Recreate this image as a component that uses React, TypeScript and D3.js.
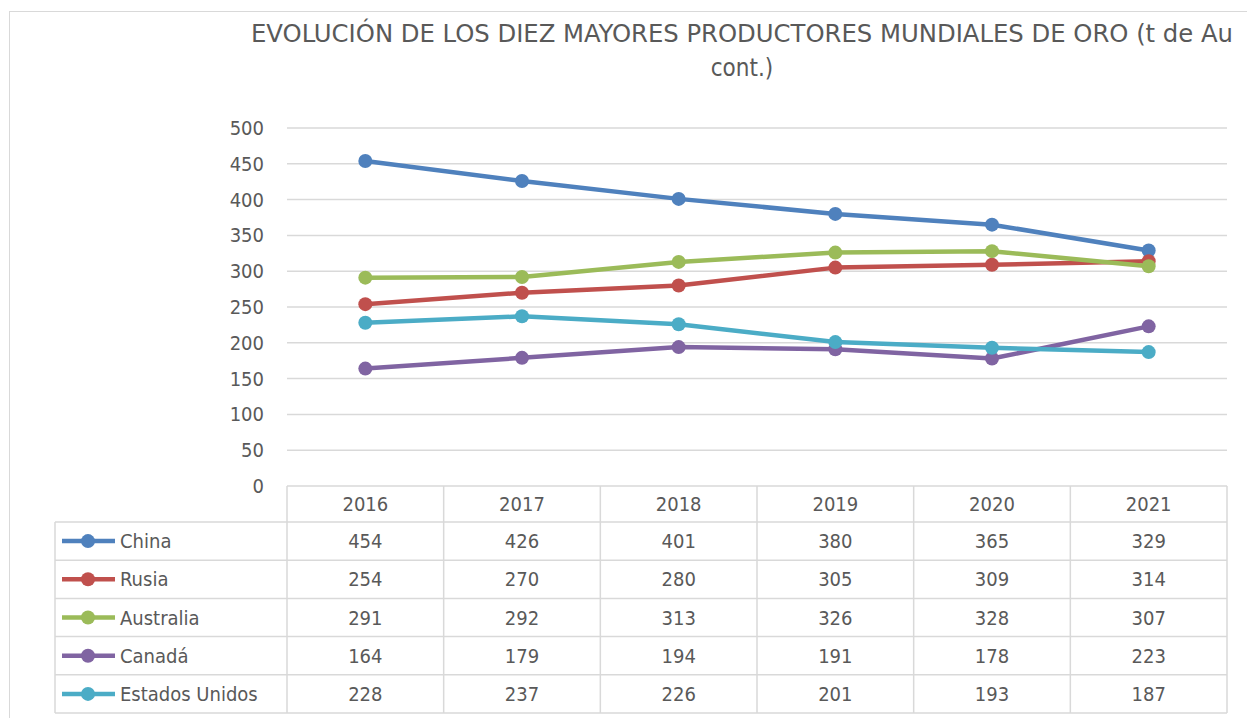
import React from "react";
import * as d3 from "d3";

const years = ["2016", "2017", "2018", "2019", "2020", "2021"];
const seriesNames = ["China", "Rusia", "Australia", "Canadá", "Estados Unidos"];
const china = [454, 426, 401, 380, 365, 329];
const rusia = [254, 270, 280, 305, 309, 314];
const australia = [291, 292, 313, 326, 328, 307];
const canada = [164, 179, 194, 191, 178, 223];
const eeuu = [228, 237, 226, 201, 193, 187];
const colors = ["#4f81bd", "#c0504d", "#9bbb59", "#8064a2", "#4bacc6"];
const yTicks = [0, 50, 100, 150, 200, 250, 300, 350, 400, 450, 500];
const titleLines = ["EVOLUCIÓN DE LOS DIEZ MAYORES PRODUCTORES MUNDIALES DE ORO (t de Au", "cont.)"];

const allSeries = [china, rusia, australia, canada, eeuu];

export default function App() {
  const W = 1247, H = 718;
  const left = 287, right = 1227, top = 128, bottom = 486;
  const tableLeft = 55;
  const headerBottom = 522;
  const rowH = 38.2;
  const font = "'DejaVu Sans Condensed', 'DejaVu Sans', sans-serif";
  const textColor = "#595959";
  const gridColor = "#d9d9d9";

  const x = d3.scaleBand<string>().domain(years).range([left, right]);
  const y = d3.scaleLinear().domain([0, 500]).range([bottom, top]);
  const line = d3.line<number>().x((_, i) => (x(years[i]) as number) + x.bandwidth() / 2).y((d) => y(d));

  const tableBottom = headerBottom + rowH * seriesNames.length;

  return (
    <svg width={W} height={H} style={{ position: "absolute", left: 0, top: 0, fontFamily: font }}>
      <rect x={0} y={0} width={W} height={H} fill="#fff" />
      <rect x={9.5} y={11.5} width={W + 10} height={H + 10} fill="none" stroke={gridColor} strokeWidth={1} />
      <text x={742} y={42} textAnchor="middle" fontSize={24} fill={textColor} textLength={982} lengthAdjust="spacingAndGlyphs">{titleLines[0]}</text>
      <text x={742} y={76} textAnchor="middle" fontSize={24} fill={textColor}>{titleLines[1]}</text>
      {yTicks.map((t) => (
        <g key={t}>
          {t > 0 && <line x1={left} x2={right} y1={y(t)} y2={y(t)} stroke={gridColor} strokeWidth={1.5} />}
          <text x={264} y={y(t) + 7} textAnchor="end" fontSize={20} fill={textColor}>{t}</text>
        </g>
      ))}
      {/* table */}
      <g stroke={gridColor} strokeWidth={1.5} fill="none">
        <line x1={left} x2={right} y1={bottom} y2={bottom} />
        {seriesNames.map((_, i) => (
          <line key={i} x1={tableLeft} x2={right} y1={headerBottom + rowH * i} y2={headerBottom + rowH * i} />
        ))}
        <line x1={tableLeft} x2={right} y1={tableBottom} y2={tableBottom} />
        <line x1={tableLeft} x2={tableLeft} y1={headerBottom} y2={tableBottom} />
        {years.map((yr) => (
          <line key={yr} x1={x(yr)} x2={x(yr)} y1={bottom} y2={tableBottom} />
        ))}
        <line x1={right} x2={right} y1={bottom} y2={tableBottom} />
      </g>
      {years.map((yr) => (
        <text key={yr} x={(x(yr) as number) + x.bandwidth() / 2} y={bottom + 25} textAnchor="middle" fontSize={20} fill={textColor}>{yr}</text>
      ))}
      {seriesNames.map((name, i) => {
        const cy = headerBottom + rowH * i + rowH / 2;
        return (
          <g key={name}>
            <line x1={62} x2={115} y1={cy} y2={cy} stroke={colors[i]} strokeWidth={4.5} />
            <circle cx={88} cy={cy} r={7} fill={colors[i]} />
            <text x={120} y={cy + 7} fontSize={20} fill={textColor}>{name}</text>
            {allSeries[i].map((v, j) => (
              <text key={j} x={(x(years[j]) as number) + x.bandwidth() / 2} y={cy + 7} textAnchor="middle" fontSize={20} fill={textColor}>{v}</text>
            ))}
          </g>
        );
      })}
      {/* lines */}
      {allSeries.map((s, i) => (
        <g key={i}>
          <path d={line(s) as string} fill="none" stroke={colors[i]} strokeWidth={4.5} strokeLinejoin="round" />
          {s.map((v, j) => (
            <circle key={j} cx={(x(years[j]) as number) + x.bandwidth() / 2} cy={y(v)} r={7} fill={colors[i]} />
          ))}
        </g>
      ))}
    </svg>
  );
}
